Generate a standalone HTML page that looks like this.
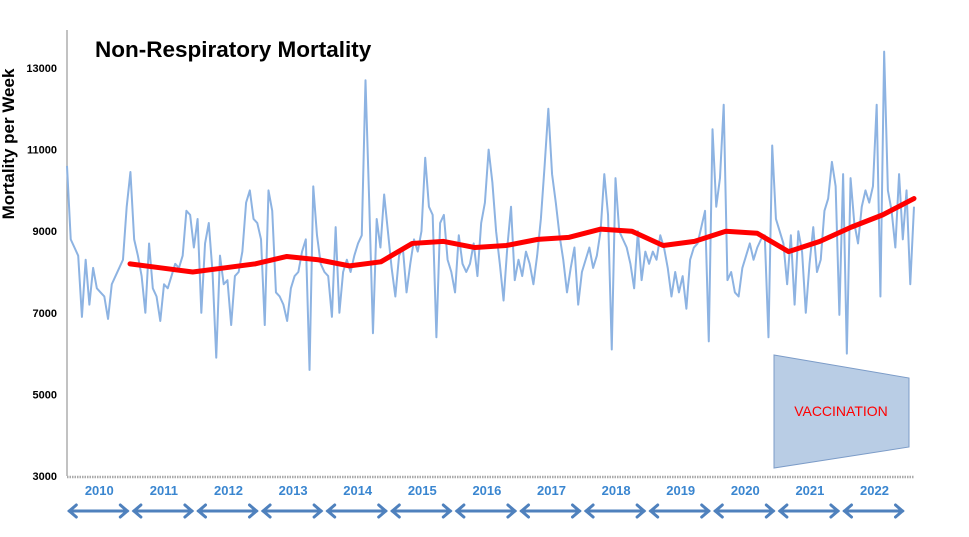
<!DOCTYPE html>
<html><head><meta charset="utf-8"><style>
body{margin:0;background:#fff;}
svg{display:block;font-family:"Liberation Sans",sans-serif;}
</style></head><body>
<svg width="969" height="537">
<g id="root"></g>
</svg>
<script>
const yTicks=[3000,5000,7000,9000,11000,13000];
const years=["2010","2011","2012","2013","2014","2015","2016","2017","2018","2019","2020","2021","2022"];
const weekly=[
10600,8800,8600,8400,6900,8300,7200,8100,7600,7500,7400,6850,7700,7900,8100,8300,
9600,10450,8800,8400,7900,7000,8700,7600,7400,6800,7700,7600,7900,8200,8100,8400,
9500,9400,8600,9300,7000,8700,9200,8000,5900,8400,7700,7800,6700,7900,8000,8500,
9700,10000,9300,9200,8800,6700,10000,9500,7500,7400,7200,6800,7600,7900,8000,8500,
8800,5600,10100,8900,8200,8000,7900,6900,9100,7000,8000,8300,8000,8400,8700,8900,
12700,9700,6500,9300,8600,9900,9000,8100,7400,8400,8600,7500,8200,8800,8500,9000,
10800,9600,9400,6400,9200,9400,8300,8000,7500,8900,8200,8000,8200,8700,7900,9200,
9700,11000,10200,9000,8200,7300,8600,9600,7800,8300,7900,8500,8200,7700,8400,9300,
10600,12000,10400,9700,8900,8300,7500,8100,8600,7200,8000,8300,8600,8100,8400,9000,
10400,9400,6100,10300,9000,8800,8600,8200,7600,9000,7800,8500,8200,8500,8300,8900,
8600,8100,7400,8000,7500,7900,7100,8300,8600,8700,9100,9500,6300,11500,9600,10300,
12100,7800,8000,7500,7400,8100,8400,8700,8300,8600,8800,8900,6400,11100,9300,9000,
8700,7700,8900,7200,9000,8500,7000,8200,9100,8000,8300,9500,9800,10700,10100,6950,
10400,6000,10300,9200,8700,9600,10000,9700,10100,12100,7400,13400,10000,9500,8600,10400,8800,10000,7700,9600];
const movingAvg=[8200,8100,8000,8100,8200,8380,8300,8150,8250,8700,8750,8600,8650,8800,8850,9050,9000,8650,8750,9000,8950,8500,8750,9100,9400,9800];

const NS="http://www.w3.org/2000/svg";
const root=document.getElementById('root');
function mk(tag,attrs,parent){const e=document.createElementNS(NS,tag);for(const k in attrs)e.setAttribute(k,attrs[k]);(parent||root).appendChild(e);return e;}
const X0=67,X1=914,Y0=476;
const yScale=v=>Y0-(v-3000)*0.0408;
const xWeek=i=>X0+i*(X1-X0)/(weekly.length-1);
const xAvg=i=>130+i*(X1-130)/(movingAvg.length-1);
const yearW=64.6;

let t=mk('text',{x:95,y:57,'font-size':22.5,'font-weight':'bold',fill:'#000'});t.textContent='Non-Respiratory Mortality';


t=mk('text',{x:0,y:0,'font-size':17,'font-weight':'bold',fill:'#000','text-anchor':'middle',transform:'translate(14,144) rotate(-90)'});t.textContent='Mortality per Week';



yTicks.forEach(v=>{const e=mk('text',{x:57,y:yScale(v)+4,'font-size':11,'font-weight':'bold','text-anchor':'end',fill:'#000'});e.textContent=v;

});
let a=mk('line',{x1:X0,y1:30,x2:X0,y2:Y0,stroke:'#999','stroke-width':1.2});


a=mk('line',{x1:X0,y1:Y0+1,x2:X1,y2:Y0+1,stroke:'#aaa','stroke-width':2.5,'stroke-dasharray':'1.5 1'});



let p=mk('polyline',{points:weekly.map((v,i)=>xWeek(i)+','+yScale(v)).join(' '),fill:'none',stroke:'#8db3e2','stroke-width':2,'stroke-linejoin':'round'});


p=mk('polyline',{points:movingAvg.map((v,i)=>xAvg(i)+','+yScale(v)).join(' '),fill:'none',stroke:'#ff0000','stroke-width':5,'stroke-linejoin':'round','stroke-linecap':'round'});



p=mk('polygon',{points:'774,355 909,378 909,447 774,468',fill:'#b9cde5',stroke:'#7c9cc8','stroke-width':1});


t=mk('text',{x:841,y:416,'font-size':14,fill:'#ff0000','text-anchor':'middle'});t.textContent='VACCINATION';



years.forEach((y,i)=>{const cx=X0+yearW*i+yearW/2;
const e=mk('text',{x:cx,y:495,'font-size':13,'font-weight':'bold',fill:'#3a86d0','text-anchor':'middle'});e.textContent=y;


const l=cx-30,r=cx+28,yy=511;
const g=mk('g',{stroke:'#4f81bd','stroke-width':3,fill:'none','stroke-linecap':'round'});


mk('line',{x1:l,y1:yy,x2:r,y2:yy},g);
mk('polyline',{points:(l+7)+','+(yy-6)+' '+l+','+yy+' '+(l+7)+','+(yy+6)},g);
mk('polyline',{points:(r-7)+','+(yy-6)+' '+r+','+yy+' '+(r-7)+','+(yy+6)},g);
});
</script>
</body></html>
